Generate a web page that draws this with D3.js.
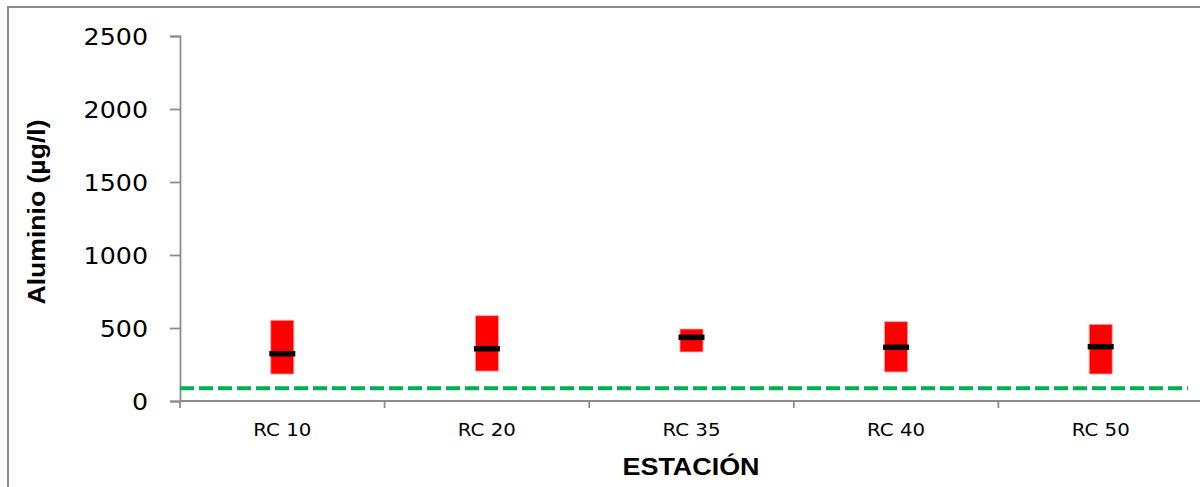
<!DOCTYPE html>
<html><head><meta charset="utf-8">
<script src="https://cdn.jsdelivr.net/npm/d3@7"></script>
<style>body{margin:0;background:#fff}svg{display:block}</style>
</head><body>
<script>
const categories = ["RC 10","RC 20","RC 35","RC 40","RC 50"];
const minValues = [185, 205, 336, 199, 185];
const maxValues = [553, 584, 493, 543, 525];
const medianValues = [324, 358, 436, 368, 372];
const limitValue = 87;
const yTicks = [0, 500, 1000, 1500, 2000, 2500];

const W = 1200, H = 487;
const stretch = 1.1;
const svg = d3.select("body").append("svg").attr("width", W).attr("height", H);

// outer border
svg.append("rect").attr("x", 8).attr("y", 7).attr("width", 1300).attr("height", 600)
  .attr("fill", "none").attr("stroke", "#8c8c8c").attr("stroke-width", 2);

const x = d3.scaleBand().domain(categories).range([180, 1203]).padding(0);
const y = d3.scaleLinear().domain([0, 2500]).range([401, 36]);
const axisColor = "#8c8c8c";

// y axis
const gy = svg.append("g").attr("transform", "translate(180,0)")
  .call(d3.axisLeft(y).tickValues(yTicks).tickSize(10).tickPadding(22).tickFormat(d3.format("d")));
gy.select(".domain").attr("stroke", axisColor).attr("stroke-width", 1.8);
gy.selectAll(".tick line").attr("stroke", axisColor).attr("stroke-width", 1.8);
gy.selectAll("text").attr("font-family", "DejaVu Sans").attr("font-size", 23).attr("fill", "#000")
  .attr("dy", "0.36em")
  .each(function(){ const w = this.getComputedTextLength(); d3.select(this).attr("textLength", w*stretch).attr("lengthAdjust","spacingAndGlyphs"); });

// x axis
const gx = svg.append("g").attr("transform", "translate(0,401)");
gx.append("line").attr("x1", 180).attr("x2", 1203).attr("y1", 0).attr("y2", 0)
  .attr("stroke", axisColor).attr("stroke-width", 1.8);
const bounds = categories.map(c => x(c)).concat([x.range()[1]]);
gx.selectAll("line.tk").data(bounds).join("line").attr("class","tk")
  .attr("x1", d => d).attr("x2", d => d).attr("y1", 0).attr("y2", 7)
  .attr("stroke", axisColor).attr("stroke-width", 1.8);
gx.selectAll("text").data(categories).join("text")
  .attr("x", d => x(d) + x.bandwidth()/2).attr("y", 35)
  .attr("text-anchor", "middle").attr("font-family", "DejaVu Sans").attr("font-size", 18).attr("fill", "#000")
  .text(d => d)
  .each(function(){ const w = this.getComputedTextLength(); d3.select(this).attr("textLength", w*stretch).attr("lengthAdjust","spacingAndGlyphs"); });

// limit line
svg.append("line").attr("x1", 180).attr("x2", 1188).attr("y1", y(limitValue)).attr("y2", y(limitValue))
  .attr("stroke", "#00B050").attr("stroke-width", 4).attr("stroke-dasharray", "14,5");

// boxes
const boxW = 23, medW = 26;
const data = categories.map((c,i) => ({c, lo: minValues[i], hi: maxValues[i], med: medianValues[i]}));
svg.selectAll("rect.box").data(data).join("rect").attr("class","box")
  .attr("x", d => x(d.c) + x.bandwidth()/2 - boxW/2)
  .attr("y", d => y(d.hi))
  .attr("width", boxW)
  .attr("height", d => y(d.lo) - y(d.hi))
  .attr("fill", "#FF0000").attr("stroke", "#ff9a9a").attr("stroke-width", 0.8);
svg.selectAll("line.med").data(data).join("line").attr("class","med")
  .attr("x1", d => x(d.c) + x.bandwidth()/2 - medW/2)
  .attr("x2", d => x(d.c) + x.bandwidth()/2 + medW/2)
  .attr("y1", d => y(d.med)).attr("y2", d => y(d.med))
  .attr("stroke", "#000").attr("stroke-width", 5.5).attr("stroke-linecap", "butt");

// axis titles
svg.append("text").attr("transform", "translate(45,212) rotate(-90)")
  .attr("text-anchor", "middle").attr("font-family", "Liberation Sans").attr("font-weight", "bold")
  .attr("font-size", 24).attr("fill", "#000")
  .attr("textLength", 185).attr("lengthAdjust", "spacingAndGlyphs")
  .text("Aluminio (µg/l)");
svg.append("text").attr("x", 691).attr("y", 475)
  .attr("text-anchor", "middle").attr("font-family", "Liberation Sans").attr("font-weight", "bold")
  .attr("font-size", 24).attr("fill", "#000")
  .attr("textLength", 137).attr("lengthAdjust", "spacingAndGlyphs")
  .text("ESTACIÓN");
</script>
</body></html>
